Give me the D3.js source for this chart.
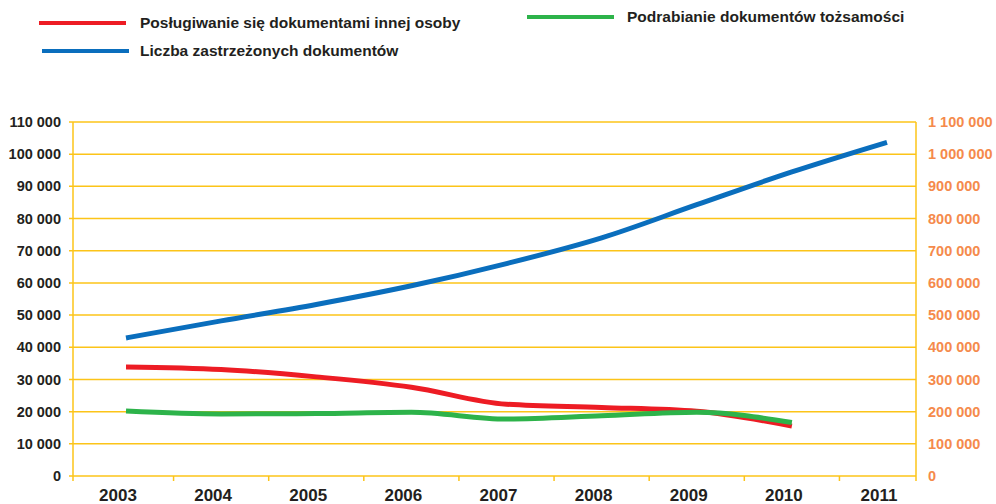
<!DOCTYPE html>
<html>
<head>
<meta charset="utf-8">
<script src="https://cdn.jsdelivr.net/npm/d3@7"></script>
<style>
body { margin: 0; background: #fff; }
text { font-family: "Liberation Sans", Arial, sans-serif; font-weight: bold; }
</style>
</head>
<body>
<script>
// lata
var years = ["2003","2004","2005","2006","2007","2008","2009","2010","2011"];
// lewa oś
var posl = [33900, 33100, 30800, 27600, 22300, 21300, 20100, 15500];
var podr = [20200, 19300, 19400, 19800, 17700, 18700, 19800, 16600];
// prawa oś
var zastrz = [429000, 482000, 533000, 591000, 660000, 740000, 843000, 945000, 1037000];

var leftTicks = d3.range(0, 110001, 10000);
var rightTicks = d3.range(0, 1100001, 100000);

var W = 996, H = 504;
var x0 = 73, x1 = 916, yTop = 122, yBot = 476;
var grid = "#fcc419";

var svg = d3.select("body").append("svg")
	.attr("width", W)
	.attr("height", H);

var x = d3.scalePoint().domain(years).range([126, 887]);
var yL = d3.scaleLinear().domain([0, 110000]).range([yBot, yTop]);
var yR = d3.scaleLinear().domain([0, 1100000]).range([yBot, yTop]);

var fmt = function(v) { return d3.format(",")(v).replace(/,/g, " "); };

// siatka
svg.selectAll("line.grid")
	.data(leftTicks)
	.enter().append("line")
	.attr("class", "grid")
	.attr("x1", x0 - 4)
	.attr("x2", x1)
	.attr("y1", function(d) { return yL(d); })
	.attr("y2", function(d) { return yL(d); })
	.style("stroke", grid)
	.style("stroke-width", 1.5);

// osie pionowe
svg.append("line").attr("x1", x0).attr("x2", x0).attr("y1", yTop).attr("y2", yBot + 5)
	.style("stroke", grid).style("stroke-width", 1.5);
svg.append("line").attr("x1", x1).attr("x2", x1).attr("y1", yTop).attr("y2", yBot + 5)
	.style("stroke", grid).style("stroke-width", 1.5);

// podziałki osi x (między latami)
var step = x.step();
var bounds = years.slice(0, years.length - 1).map(function(d) { return x(d) + step / 2; });
svg.selectAll("line.xt")
	.data(bounds)
	.enter().append("line")
	.attr("x1", function(d) { return d; })
	.attr("x2", function(d) { return d; })
	.attr("y1", yBot)
	.attr("y2", yBot + 5)
	.style("stroke", grid)
	.style("stroke-width", 1.5);

// etykiety lewej osi
svg.selectAll("text.yl")
	.data(leftTicks)
	.enter().append("text")
	.attr("x", 61)
	.attr("y", function(d) { return yL(d); })
	.attr("dy", "0.35em")
	.attr("text-anchor", "end")
	.style("font-size", "14.5px")
	.style("fill", "#231f20")
	.text(fmt);

// etykiety prawej osi
svg.selectAll("text.yr")
	.data(rightTicks)
	.enter().append("text")
	.attr("x", 928)
	.attr("y", function(d) { return yR(d); })
	.attr("dy", "0.35em")
	.style("font-size", "14.5px")
	.style("fill", "#f58a4b")
	.text(fmt);

// etykiety lat
svg.selectAll("text.xl")
	.data(years)
	.enter().append("text")
	.attr("x", function(d) { return x(d) - 8; })
	.attr("y", 501)
	.attr("text-anchor", "middle")
	.style("font-size", "17px")
	.style("fill", "#231f20")
	.text(function(d) { return d; });

// linie
var series = [
	{ vals: zastrz, y: yR, color: "#0a6ebd" },
	{ vals: posl, y: yL, color: "#ed1c24" },
	{ vals: podr, y: yL, color: "#2db34a" }
];
series.forEach(function(s) {
	var line = d3.line()
		.x(function(d, i) { return x(years[i]); })
		.y(function(d) { return s.y(d); })
		.curve(d3.curveMonotoneX);
	svg.append("path")
		.datum(s.vals)
		.attr("d", line)
		.style("fill", "none")
		.style("stroke", s.color)
		.style("stroke-width", 5);
});

// legenda
var legend = [
	{ name: "Posługiwanie się dokumentami innej osoby", color: "#ed1c24", x: 39, y: 23, tx: 101 },
	{ name: "Liczba zastrzeżonych dokumentów", color: "#0a6ebd", x: 42, y: 51, tx: 98 },
	{ name: "Podrabianie dokumentów tożsamości", color: "#2db34a", x: 527, y: 17, tx: 100 }
];
var lg = svg.selectAll("g.lg")
	.data(legend)
	.enter().append("g")
	.attr("transform", function(d) { return "translate(" + d.x + "," + d.y + ")"; });
lg.append("line")
	.attr("x1", 0).attr("x2", 87)
	.style("stroke", function(d) { return d.color; })
	.style("stroke-width", 4);
lg.append("text")
	.attr("x", function(d) { return d.tx; })
	.attr("dy", "0.35em")
	.style("font-size", "15.5px")
	.style("fill", "#231f20")
	.text(function(d) { return d.name; });
</script>
</body>
</html>
